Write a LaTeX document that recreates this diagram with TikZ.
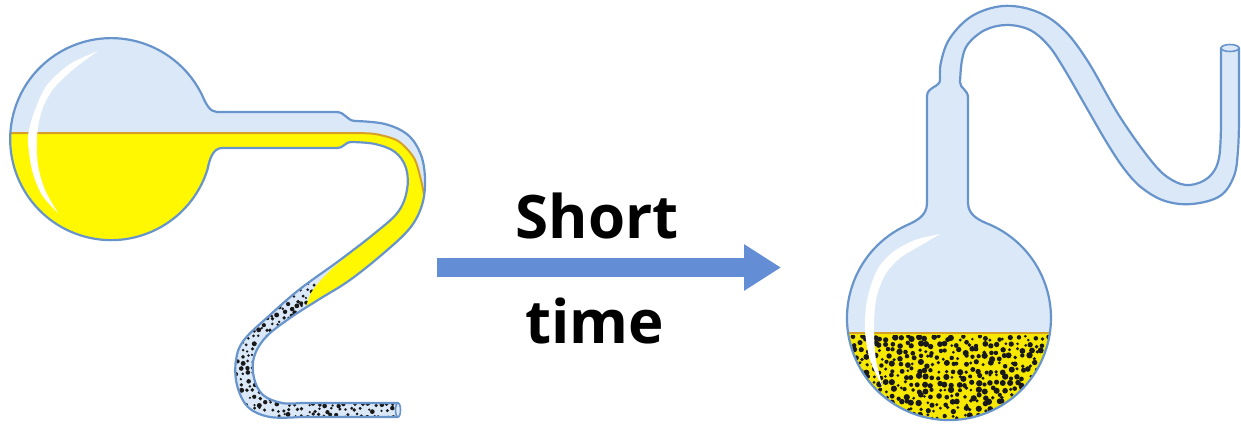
\documentclass[tikz,border=0pt]{standalone}
\usepackage{fontspec}
\usetikzlibrary{arrows.meta}
\newfontfamily\labelfont{Open Sans}
\definecolor{glassfill}{RGB}{218,232,248}
\definecolor{glassline}{RGB}{104,148,204}
\definecolor{broth}{RGB}{255,248,0}
\definecolor{brothdark}{RGB}{246,232,0}
\definecolor{levelline}{RGB}{214,160,40}
\definecolor{arrowblue}{RGB}{99,142,213}

% outline of the swan-neck flask tipped over
\def\leftflaskpath{(217,112) -- (336,112) .. controls (346,112) and (346,121) .. (356,121)
 -- plot[smooth,tension=0.6] coordinates {(356,121) (385,124) (408,135) (421,155) (425,180) (422,205) (410,228) (385,252) (350,280) (318,300) (290,318) (266,337) (254,357) (254,378) (263,395) (282,403) (300,403)}
 -- (398,403) -- (398,417) -- (300,417)
 -- plot[smooth,tension=0.6] coordinates {(300,417) (270,417) (248,407) (237,385) (236,360) (244,340) (270,315) (300,289) (340,260) (375,233) (398,212) (407,190) (406,168) (395,152) (375,144) (352,142)}
 .. controls (344,142) and (345,148) .. (336,148) -- (222,148)
 .. controls (212,148) and (209,162) .. (207.5,169.5)
 arc[start angle=17.5, end angle=334.7, radius=101]
 .. controls (206,104) and (210,112) .. (217,112) -- cycle}

% outline of the upright swan-neck flask
\def\rightflaskpath{(940,80) .. controls (940,87) and (927,87) .. (927,96) -- (927,203)
 .. controls (927,216) and (916,221) .. (907,225.1)
 arc[start angle=245.7, end angle=-66.2, radius=102]
 .. controls (981,221) and (968,216) .. (968,203) -- (968,98)
 .. controls (968,89) and (960,89) .. (960,82)
 -- plot[smooth,tension=0.6] coordinates {(960,82) (962,60) (968,44) (985,30) (1007,25) (1030,30) (1048,45) (1063,67) (1085,105) (1107,143) (1125,170) (1142,188) (1165,201) (1192,204) (1220,196) (1234,176) (1238,150) (1239,120)}
 -- (1239,48) -- (1221,48) -- (1221,120)
 -- plot[smooth,tension=0.6] coordinates {(1221,120) (1219,158) (1209,177) (1190,185) (1172,180) (1153,163) (1120,117) (1087,60) (1062,28) (1035,11) (1003,6) (972,16) (950,38) (941,62) (940,80)}
 -- cycle}

\begin{document}
\begin{tikzpicture}[x=0.5pt,y=-0.5pt,
  glass/.style={fill=glassfill},
  rim/.style={draw=glassline,line width=1.1pt,line join=round},
  liquid/.style={fill=broth},
  level/.style={draw=levelline,line width=1pt},
  grain/.style={fill=black!90},
  shine/.style={fill=white},
  caption/.style={font=\labelfont\bfseries\fontsize{30}{32}\selectfont,anchor=base,inner sep=0pt}]
\useasboundingbox (0,0) rectangle (1241,428);

% ---------- left flask: broth pouring into the neck ----------
\fill[glass] \leftflaskpath;
\begin{scope}
  \clip \leftflaskpath;
  % microbes in the lower tube (jittered grid)
  \begin{scope}
    \clip (225,270) rectangle (405,425);
    \pgfmathsetseed{11}
    \foreach \gx in {230,236,...,402}{
      \foreach \gy in {284,290,...,420}{
        \pgfmathsetmacro{\px}{\gx+4.4*rnd-2.2}
        \pgfmathsetmacro{\py}{\gy+4.4*rnd-2.2}
        \pgfmathsetmacro{\pr}{1.2+1.3*rnd}
        \fill[grain] (\px,\py) circle[radius=\pr];
      }
    }
  \end{scope}
  % broth
  \fill[liquid] (0,133) -- (350,133)
    -- plot[smooth] coordinates {(350,133) (375,134) (398,141) (414,158) (421,180) (425,200)}
    -- (445,200) -- (445,262) -- (322,320) -- (306,307)
    -- plot[smooth] coordinates {(306,307) (311,293) (321,280) (333,268) (346,257)}
    -- (320,240) -- (0,240) -- cycle;
  \draw[level] (0,133) -- (350,133)
    -- plot[smooth] coordinates {(350,133) (375,134) (398,141) (414,158) (421,180) (425,200)};
\end{scope}
\fill[shine] plot[smooth] coordinates {(98,51) (70,64) (47,85) (35,110) (28,137) (32,170) (42,195) (58,213)}
  -- plot[smooth] coordinates {(58,213) (45,190) (38,165) (37,137) (42,110) (54,88) (75,68) (98,51)} -- cycle;
\draw[rim] \leftflaskpath;
\draw[rim,fill=glassfill,line width=0.8pt] (398,410) ellipse[x radius=2.5,y radius=7];

% ---------- arrow and caption ----------
\coordinate (arrS) at (437,267.5);
\coordinate (arrE) at (781,267.5);
\draw[arrowblue,line width=9.5pt,-{Triangle[length=18.5pt,width=22pt]}] (arrS) -- (arrE);
\node[caption] (short) at (597,238) {Short};
\node[caption] (time) at (595,343) {time};

% ---------- right flask: contaminated broth ----------
\fill[glass] \rightflaskpath;
\begin{scope}
  \clip (949,318) circle[radius=101.5];
  \fill[brothdark] (840,333) rectangle (1060,425);
  \begin{scope}
    \clip (840,335) rectangle (1060,425);
    \pgfmathsetseed{5}
    \foreach \gx in {848,854.5,...,1052}{
      \foreach \gy in {338,344.5,...,422}{
        \pgfmathsetmacro{\px}{\gx+4.6*rnd-2.3}
        \pgfmathsetmacro{\py}{\gy+4.6*rnd-2.3}
        \pgfmathsetmacro{\pr}{1.4+1.8*rnd}
        \fill[grain] (\px,\py) circle[radius=\pr];
      }
    }
  \end{scope}
  \draw[level] (840,333) -- (1060,333);
\end{scope}
\fill[shine] plot[smooth] coordinates {(940,234) (915,240) (893,252) (877,270) (867,300) (865,330) (870,360) (883,388)}
  -- plot[smooth] coordinates {(883,388) (876,360) (874,330) (876,300) (885,275) (900,258) (918,247) (940,234)} -- cycle;
\draw[rim] \rightflaskpath;
\draw[rim,fill=glassfill,line width=0.8pt] (1230,48) ellipse[x radius=9,y radius=3.5];
\end{tikzpicture}
\end{document}
